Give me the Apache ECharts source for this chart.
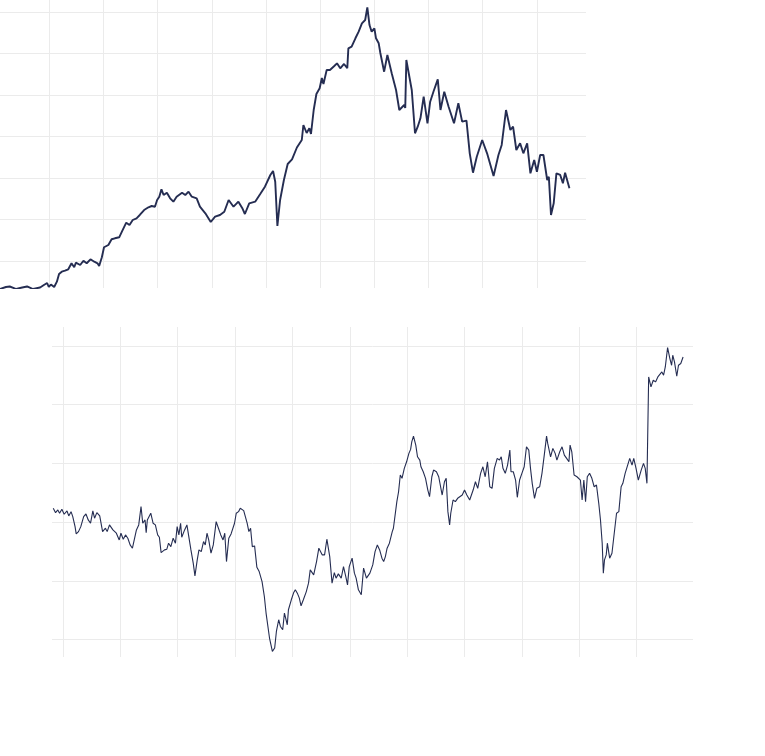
<!DOCTYPE html>
<html>
<head>
<meta charset="utf-8">
<script src="https://cdn.jsdelivr.net/npm/echarts@6/dist/echarts.min.js"></script>
<style>
html,body{margin:0;padding:0;background:#fff;}
#chart{width:765px;height:756px;}
</style>
</head>
<body>
<div id="chart"></div>
<script>
// ---- Upper panel (x in years, y in index points) ----
const topX = [1990.09,1990.20,1990.27,1990.39,1990.50,1990.59,1990.70,1990.83,1990.90,1990.96,
1990.99,1991.03,1991.09,1991.14,1991.18,1991.23,1991.29,1991.35,1991.41,1991.46,
1991.49,1991.57,1991.63,1991.69,1991.76,1991.83,1991.89,1991.92,1991.97,1992.01,
1992.09,1992.15,1992.21,1992.29,1992.34,1992.42,1992.48,1992.54,1992.61,1992.67,
1992.75,1992.83,1992.89,1992.95,1992.99,1993.03,1993.07,1993.11,1993.17,1993.23,
1993.29,1993.35,1993.45,1993.51,1993.57,1993.63,1993.72,1993.78,1993.88,1993.98,
1994.06,1994.15,1994.23,1994.31,1994.40,1994.49,1994.56,1994.61,1994.69,1994.80,
1994.89,1994.98,1995.08,1995.13,1995.17,1995.21,1995.26,1995.33,1995.40,1995.48,
1995.57,1995.66,1995.69,1995.75,1995.80,1995.83,1995.88,1995.93,1995.99,1996.03,
1996.06,1996.12,1996.18,1996.26,1996.31,1996.37,1996.44,1996.50,1996.52,1996.58,
1996.65,1996.71,1996.77,1996.83,1996.87,1996.91,1996.95,1997.00,1997.03,1997.08,
1997.11,1997.18,1997.24,1997.32,1997.40,1997.46,1997.55,1997.57,1997.59,1997.69,
1997.75,1997.80,1997.85,1997.91,1997.98,1998.03,1998.09,1998.17,1998.22,1998.29,
1998.37,1998.47,1998.55,1998.62,1998.70,1998.76,1998.82,1998.89,1998.99,1999.08,
1999.20,1999.29,1999.35,1999.43,1999.51,1999.56,1999.62,1999.69,1999.75,1999.82,
1999.88,1999.95,2000.00,2000.06,2000.12,2000.19,2000.22,2000.26,2000.31,2000.36,
2000.43,2000.48,2000.52,2000.55,2000.60];
const topY = [32.4,37.3,38.5,32.4,36.1,38.5,32.4,36.1,42.1,46.9,
37.3,43.3,37.3,50.1,68.6,74.2,76.6,80.0,94.5,84.8,
95.9,90.4,100.7,94.5,104.1,98.3,94.5,87.9,108.9,133.1,
138.6,152.4,154.8,157.2,170.7,192.4,186.9,198.9,203.0,211.0,
223.0,229.6,232.7,231.0,247.2,255.1,273.0,259.2,264.8,251.3,
243.1,255.1,264.8,259.2,267.2,255.1,251.3,231.0,215.1,194.1,
206.9,211.0,218.9,247.2,231.0,243.1,227.9,213.4,239.2,243.1,
260.9,279.2,307.5,317.1,291.3,184.4,247.2,295.4,334.0,345.4,
373.8,391.9,428.1,408.8,420.1,406.4,464.3,502.9,516.6,541.5,
527.0,560.8,560.8,570.4,576.9,564.9,575.3,564.9,613.1,617.0,
637.3,653.2,673.4,681.4,712.0,669.3,653.2,661.4,637.3,625.2,
601.8,556.7,597.0,552.8,512.5,464.3,476.4,469.1,584.9,512.5,
408.1,424.0,444.3,496.4,432.2,484.3,508.4,538.3,464.3,508.4,
472.2,432.2,480.5,436.1,438.5,359.8,313.0,351.6,391.9,359.8,
305.1,355.7,379.9,464.3,416.0,424.0,367.8,384.0,359.8,384.0,
311.6,343.7,315.4,355.7,355.7,295.4,303.4,211.0,239.2,311.6,
307.5,287.5,313.0,311.6,275.4];
const topXRange = [1990.09, 2000.906];
const topYRange = [34.86, 729.66];

// ---- Lower panel ----
const botX = [2009.83,2009.87,2009.91,2009.94,2009.98,2010.02,2010.07,2010.10,2010.14,2010.17,
2010.21,2010.23,2010.27,2010.31,2010.36,2010.40,2010.44,2010.48,2010.52,2010.55,
2010.59,2010.64,2010.66,2010.69,2010.74,2010.77,2010.81,2010.87,2010.93,2010.98,
2011.01,2011.05,2011.09,2011.13,2011.17,2011.21,2011.24,2011.28,2011.32,2011.36,
2011.39,2011.43,2011.45,2011.47,2011.53,2011.57,2011.61,2011.65,2011.68,2011.71,
2011.77,2011.81,2011.84,2011.88,2011.92,2011.96,2011.99,2012.02,2012.05,2012.07,
2012.12,2012.16,2012.19,2012.23,2012.27,2012.30,2012.34,2012.37,2012.41,2012.45,
2012.48,2012.51,2012.54,2012.58,2012.62,2012.67,2012.71,2012.75,2012.79,2012.82,
2012.85,2012.89,2012.93,2012.96,2012.99,2013.02,2013.06,2013.09,2013.11,2013.15,
2013.18,2013.21,2013.24,2013.27,2013.30,2013.34,2013.38,2013.42,2013.47,2013.51,
2013.54,2013.60,2013.65,2013.69,2013.72,2013.76,2013.79,2013.83,2013.86,2013.91,
2013.93,2013.98,2014.02,2014.05,2014.09,2014.12,2014.15,2014.19,2014.24,2014.28,
2014.31,2014.37,2014.42,2014.46,2014.52,2014.56,2014.60,2014.65,2014.69,2014.73,
2014.76,2014.80,2014.85,2014.89,2014.93,2014.96,2014.99,2015.04,2015.08,2015.11,
2015.15,2015.20,2015.24,2015.29,2015.35,2015.40,2015.44,2015.48,2015.52,2015.56,
2015.59,2015.62,2015.65,2015.69,2015.74,2015.76,2015.79,2015.82,2015.85,2015.88,
2015.91,2015.95,2015.99,2016.03,2016.06,2016.08,2016.11,2016.15,2016.18,2016.22,
2016.24,2016.28,2016.32,2016.36,2016.39,2016.43,2016.46,2016.51,2016.55,2016.58,
2016.61,2016.65,2016.68,2016.71,2016.74,2016.76,2016.80,2016.84,2016.88,2016.91,
2016.96,2017.00,2017.04,2017.09,2017.15,2017.19,2017.23,2017.28,2017.32,2017.36,
2017.40,2017.44,2017.48,2017.52,2017.57,2017.61,2017.64,2017.67,2017.71,2017.75,
2017.79,2017.81,2017.85,2017.89,2017.92,2017.96,2018.00,2018.04,2018.08,2018.12,
2018.15,2018.18,2018.22,2018.26,2018.31,2018.35,2018.39,2018.43,2018.45,2018.50,
2018.54,2018.58,2018.61,2018.66,2018.70,2018.74,2018.78,2018.82,2018.84,2018.87,
2018.91,2018.96,2018.99,2019.02,2019.05,2019.08,2019.11,2019.14,2019.18,2019.22,
2019.26,2019.30,2019.34,2019.37,2019.40,2019.42,2019.44,2019.47,2019.49,2019.53,
2019.57,2019.61,2019.65,2019.69,2019.73,2019.76,2019.80,2019.83,2019.88,2019.92,
2019.95,2019.99,2020.03,2020.08,2020.12,2020.15,2020.18,2020.21,2020.25,2020.29,
2020.33,2020.37,2020.40,2020.44,2020.47,2020.50,2020.54,2020.58,2020.61,2020.63,
2020.66,2020.70,2020.73,2020.77,2020.81];
const botY = [82.37,81.63,82.09,81.53,82.20,81.36,81.92,81.07,81.80,80.95,
79.25,78.01,78.40,79.25,80.95,81.41,80.39,79.83,81.92,80.68,
81.63,81.07,80.95,78.40,78.98,78.40,79.54,78.69,78.13,76.99,
78.13,77.11,77.84,77.28,76.14,75.58,75.85,78.69,79.54,82.65,
79.83,80.39,78.23,80.39,81.53,79.83,79.54,77.84,77.45,74.83,
75.29,75.41,76.43,75.85,77.28,76.43,79.25,77.84,79.83,77.45,
78.69,79.54,79.25,75.29,73.03,70.87,73.59,75.29,75.00,76.70,
76.14,78.13,76.99,74.73,76.14,80.10,78.98,77.84,76.99,78.13,
73.30,77.28,78.01,78.13,79.83,81.53,81.80,82.37,82.65,81.97,
81.97,79.83,78.40,78.98,75.85,75.97,72.32,71.60,69.90,67.36,
64.54,60.29,58.01,58.59,61.41,63.40,62.26,61.70,64.54,62.55,
65.10,66.80,67.98,68.49,67.81,67.08,65.78,66.80,68.15,69.63,
71.89,71.04,73.30,75.58,74.44,74.44,77.11,74.15,69.63,71.43,
70.48,71.21,70.48,72.45,70.75,69.34,72.45,73.88,71.33,70.48,
68.49,67.65,72.18,70.48,71.33,72.74,75.00,76.14,75.29,73.88,
73.30,74.15,75.58,76.43,78.40,78.98,78.69,83.50,85.19,88.03,
87.47,89.17,90.29,91.72,92.40,93.69,94.66,93.13,91.14,90.58,
89.44,88.59,87.47,85.48,84.35,87.74,88.88,88.59,87.74,87.74,
84.63,86.89,87.47,81.80,79.54,81.53,83.78,83.50,84.07,83.78,
84.63,85.48,84.63,83.78,85.48,86.89,85.77,88.32,89.44,87.74,
90.29,86.04,85.77,89.17,90.87,90.58,91.14,89.17,88.32,89.73,
92.28,88.59,88.59,87.18,84.24,87.18,88.32,89.44,92.84,92.28,
89.17,86.62,84.07,85.77,86.04,88.32,91.43,94.66,93.42,91.14,
92.57,91.72,90.58,91.99,92.84,91.43,90.87,90.29,93.13,91.99,
88.03,87.74,88.03,87.18,83.78,87.18,83.50,87.74,88.32,87.47,
86.04,86.33,83.22,80.39,76.43,71.33,73.59,74.44,76.43,73.88,
74.73,78.13,81.53,81.80,86.04,86.62,88.32,88.59,90.87,89.73,
90.87,89.17,87.18,88.88,90.02,89.17,86.62,104.73,103.03,104.17,
103.88,104.73,104.46,105.58,105.02,106.43,109.73,107.86,106.72,108.42,
107.28,104.85,106.72,107.01,108.13];
const botXRange = [2009.808, 2020.983];
const botYRange = [57.06, 113.23];

function pairs(xs, ys) {
  const n = Math.min(xs.length, ys.length);
  const out = [];
  for (let i = 0; i < n; i++) out.push([xs[i], ys[i]]);
  return out;
}

const gridColor = '#ebebeb';
const lineColor = '#252d52';

function valAxis(range, step, gridIndex) {
  return {
    type: 'value', gridIndex: gridIndex,
    min: range[0], max: range[1],
    minInterval: step, maxInterval: step,
    axisLine: {show: false}, axisTick: {show: false}, axisLabel: {show: false},
    splitLine: {show: true, showMinLine: false, showMaxLine: false,
      lineStyle: {color: gridColor, width: 1}}
  };
}

const chart = echarts.init(document.getElementById('chart'), null, {renderer: 'canvas'});
chart.setOption({
  animation: false,
  backgroundColor: '#ffffff',
  grid: [
    {left: 0, top: 0, width: 586, height: 288},
    {left: 52, top: 327, width: 641, height: 330}
  ],
  xAxis: [valAxis(topXRange, 1, 0), valAxis(botXRange, 1, 1)],
  yAxis: [valAxis(topYRange, 100, 0), valAxis(botYRange, 10, 1)],
  series: [
    {type: 'line', xAxisIndex: 0, yAxisIndex: 0, data: pairs(topX, topY),
     showSymbol: false, symbol: 'none', clip: true,
     lineStyle: {color: lineColor, width: 1.9}},
    {type: 'line', xAxisIndex: 1, yAxisIndex: 1, data: pairs(botX, botY),
     showSymbol: false, symbol: 'none', clip: true,
     lineStyle: {color: lineColor, width: 1.1}}
  ]
});
</script>
</body>
</html>
